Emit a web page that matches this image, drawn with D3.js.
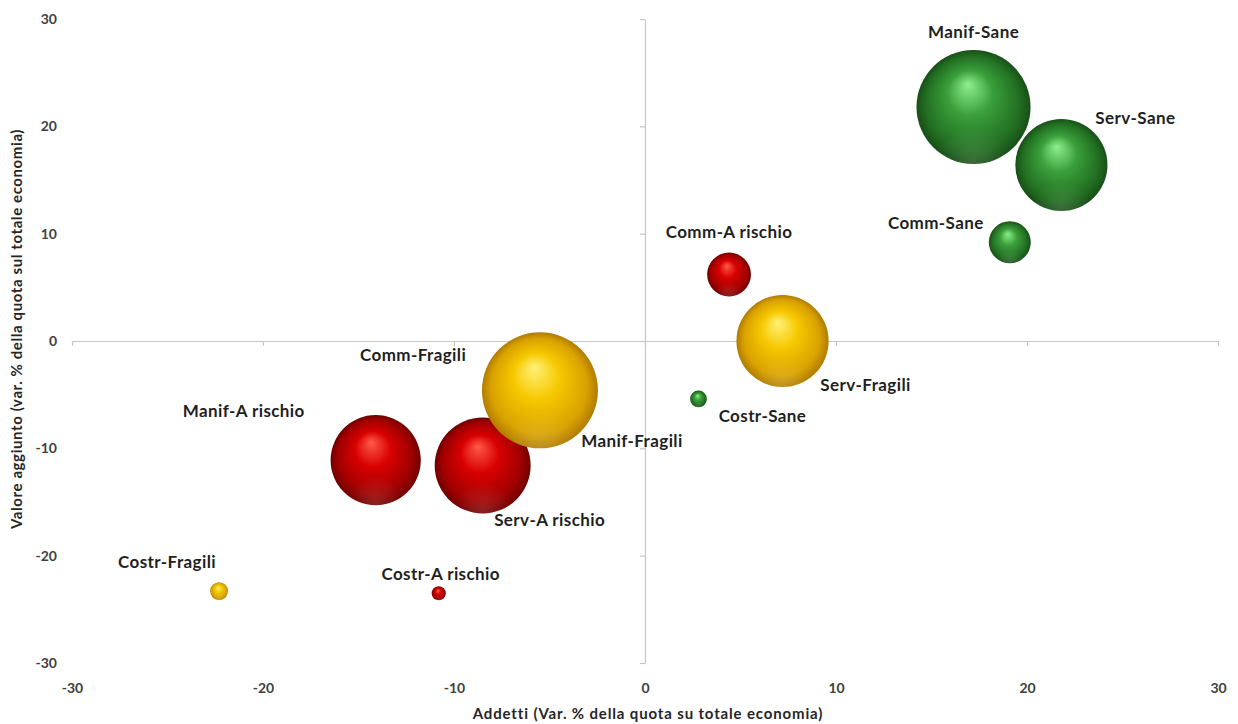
<!DOCTYPE html>
<html>
<head>
<meta charset="utf-8">
<script src="https://cdn.jsdelivr.net/npm/d3@7"></script>
<style>
  html, body { margin: 0; padding: 0; background: #ffffff; }
  svg { display: block; }
  text { font-family: Lato, "Open Sans", sans-serif; }
</style>
</head>
<body>
<svg id="chart" width="1238" height="724"></svg>
<script>
// Sectors shared by the three company-health series
const sectors = ["Manif", "Serv", "Comm", "Costr"];

// "Sane" companies: employment share change (x), value-added share change (y), bubble size
const saneX    = [17.2, 21.8, 19.1, 2.8];
const saneY    = [21.8, 16.4, 9.2, -5.4];
const saneSize = [32.5, 21.2, 4.4, 0.7];

// "Fragili" companies
const fragiliX    = [-5.5, 7.2, -5.7, -22.3];
const fragiliY    = [-4.6, 0.0, -3.9, -23.3];
const fragiliSize = [33.6, 21.2, 2.5, 0.8];

// "A rischio" companies
const rischioX    = [-14.1, -8.5, 4.4, -10.8];
const rischioY    = [-11.1, -11.6, 6.2, -23.5];
const rischioSize = [20.3, 23.0, 4.8, 0.5];

const seriesNames = ["Sane", "Fragili", "A rischio"];
const tickValues = [-30, -20, -10, 0, 10, 20, 30];

const xTitle = "Addetti (Var. % della quota su totale economia)";
const yTitle = "Valore aggiunto (var. % della quota sul totale economia)";

// Bubble shading per series: highlight, body, rim
const palette = {
  "Sane":      ["#8ef08e", "#3a9f3a", "#226f22", "#184f18"],
  "Fragili":   ["#fff27a", "#f6c800", "#d9a200", "#b07c00"],
  "A rischio": ["#ff5a4a", "#d80000", "#a00000", "#700000"]
};

// Label placement (pixel offsets from each bubble centre)
const labelOffset = {
  "Manif-Sane": [0, -76], "Serv-Sane": [74, -47], "Comm-Sane": [-74, -20], "Costr-Sane": [64, 17],
  "Manif-Fragili": [92, 50], "Serv-Fragili": [83, 43], "Comm-Fragili": [-123, -28], "Costr-Fragili": [-52, -30],
  "Manif-A rischio": [-132, -50], "Serv-A rischio": [67, 54], "Comm-A rischio": [0, -43], "Costr-A rischio": [2, -20]
};

// Build point records from the arrays above
const seriesData = [
  ["Sane", saneX, saneY, saneSize],
  ["Fragili", fragiliX, fragiliY, fragiliSize],
  ["A rischio", rischioX, rischioY, rischioSize]
];
const points = [];
seriesData.forEach(([s, xs, ys, ss]) => {
  sectors.forEach((sec, i) => {
    points.push({ series: s, name: sec + "-" + s, x: xs[i], y: ys[i], size: ss[i] });
  });
});

const svg = d3.select("#chart");

const x = d3.scaleLinear().domain([-30, 30]).range([72, 1218]);
const y = d3.scaleLinear().domain([-30, 30]).range([663, 19]);
const r = d3.scaleSqrt().domain([0, 33.6]).range([0, 58]);

// Gradients for the 3-D bubble look
const defs = svg.append("defs");
seriesNames.forEach((s, i) => {
  const c = palette[s];
  const g = defs.append("radialGradient")
    .attr("id", "ball" + i)
    .attr("cx", "50%").attr("cy", "50%").attr("r", "50%")
    .attr("fx", "45%").attr("fy", "30%");
  g.append("stop").attr("offset", "0%").attr("stop-color", c[0]);
  g.append("stop").attr("offset", "40%").attr("stop-color", c[1]);
  g.append("stop").attr("offset", "82%").attr("stop-color", c[2]);
  g.append("stop").attr("offset", "100%").attr("stop-color", c[3]);
});
const refl = defs.append("radialGradient")
  .attr("id", "reflect")
  .attr("cx", "50%").attr("cy", "100%").attr("r", "55%");
refl.append("stop").attr("offset", "0%").attr("stop-color", "#ffffff").attr("stop-opacity", 0.14);
refl.append("stop").attr("offset", "60%").attr("stop-color", "#ffffff").attr("stop-opacity", 0.0);

// Axes crossing at zero
const axisColor = "#c6c6c6";
const gx = svg.append("g")
  .attr("transform", `translate(0,${y(0)})`)
  .call(d3.axisBottom(x).tickValues(tickValues).tickSize(5).tickSizeOuter(0).tickFormat(""));
const gy = svg.append("g")
  .attr("transform", `translate(${x(0)},0)`)
  .call(d3.axisLeft(y).tickValues(tickValues).tickSize(5).tickSizeOuter(0).tickFormat(""));
[gx, gy].forEach(g => {
  g.selectAll("path, line").attr("stroke", axisColor).attr("stroke-width", 1.2);
});

// Tick labels along the plot edges
const lx = svg.append("g")
  .attr("transform", "translate(0,680)")
  .call(d3.axisBottom(x).tickValues(tickValues).tickSize(0).tickFormat(d => String(d)));
const ly = svg.append("g")
  .attr("transform", "translate(60,0)")
  .call(d3.axisLeft(y).tickValues(tickValues).tickSize(0).tickFormat(d => String(d)));
[lx, ly].forEach(g => {
  g.select(".domain").remove();
  g.selectAll("text")
    .attr("fill", "#404040")
    .style("font-family", "Lato, sans-serif")
    .style("font-size", "14px")
    .style("font-weight", "700");
});

// Axis titles
svg.append("text")
  .attr("x", 648).attr("y", 719)
  .attr("text-anchor", "middle")
  .attr("fill", "#262626")
  .style("font-size", "15px").style("font-weight", "700")
  .style("letter-spacing", "0.85px")
  .text(xTitle);
svg.append("text")
  .attr("transform", `translate(22,${y(0) - 12}) rotate(-90)`)
  .attr("text-anchor", "middle")
  .attr("fill", "#262626")
  .style("font-size", "15px").style("font-weight", "700")
  .style("letter-spacing", "0.6px")
  .text(yTitle);

// Bubbles: the hidden small one first, large ones later
const drawOrder = ["Comm-Fragili", "Costr-Fragili", "Costr-A rischio", "Costr-Sane", "Comm-A rischio", "Comm-Sane",
  "Manif-A rischio", "Serv-A rischio", "Manif-Fragili", "Serv-Fragili", "Manif-Sane", "Serv-Sane"];
const ordered = drawOrder.map(n => points.find(p => p.name === n));

const bubbles = svg.append("g").selectAll("g")
  .data(ordered)
  .join("g")
  .attr("transform", d => `translate(${x(d.x)},${y(d.y)})`);
bubbles.append("circle")
  .attr("r", d => r(d.size))
  .attr("fill", d => `url(#ball${seriesNames.indexOf(d.series)})`);
bubbles.append("circle")
  .attr("r", d => r(d.size))
  .attr("fill", "url(#reflect)");

// Data labels
svg.append("g").selectAll("text")
  .data(points)
  .join("text")
  .attr("x", d => x(d.x) + labelOffset[d.name][0])
  .attr("y", d => y(d.y) + labelOffset[d.name][1])
  .attr("text-anchor", "middle")
  .attr("dominant-baseline", "central")
  .attr("fill", "#1f1f1f")
  .style("font-size", "17px")
  .style("font-weight", "700")
  .style("letter-spacing", "0.4px")
  .text(d => d.name);
</script>
</body>
</html>
